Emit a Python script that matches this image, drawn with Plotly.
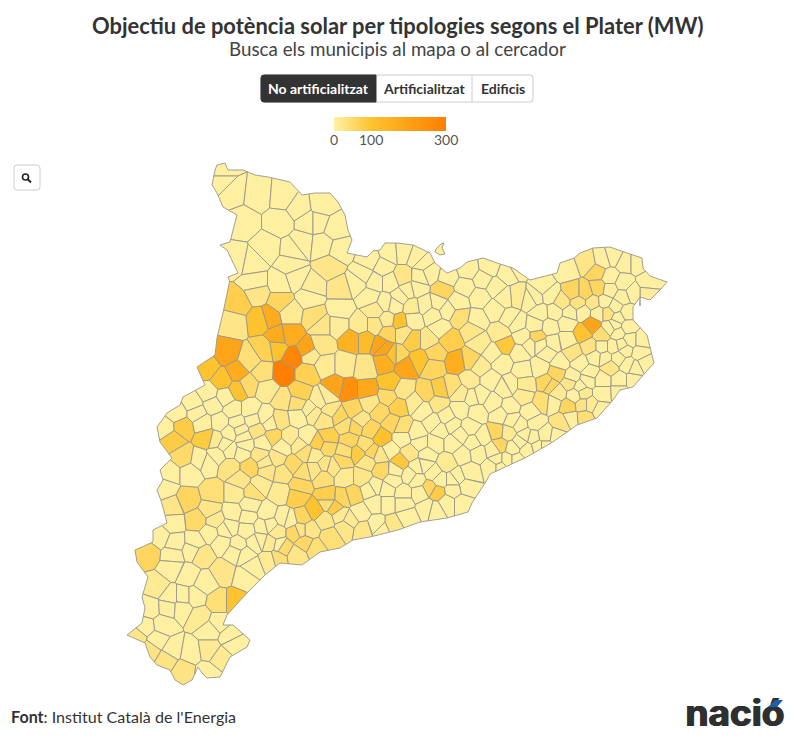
import plotly.graph_objects as go
from plotly.colors import sample_colorscale

# Municipal borders are NOT real: no boundary file is available offline, so cells are
# Voronoi regions around centres read off the picture, clipped to a traced outline.
# Centres and outline are in picture pixels; values (MW) are estimates from the colours.

title = "Objectiu de potència solar per tipologies segons el Plater (MW)"
subtitle = "Busca els municipis al mapa o al cercador"
tabs = ["No artificialitzat", "Artificialitzat", "Edificis"]
source_bold = "Font"
source_text = ": Institut Català de l'Energia"
legend_ticks = [0, 100, 300]
color_stops = [[0, "#fff1a6"], [1 / 3, "#fdc32e"], [1, "#ff7f00"]]

outline_x = [217, 225, 228, 243, 255, 268, 290, 302, 315, 330, 338, 345, 348, 352, 347, 367, 373, 380, 385, 397,
             413, 430, 435, 447, 460, 467, 483, 503, 513, 530, 557, 560, 573, 580, 593, 610, 627, 642, 643, 650,
             667, 662, 650, 640, 633, 633, 647, 650, 654, 645, 633, 620, 613, 597, 577, 553, 527, 490, 487, 472,
             468, 447, 420, 398, 370, 353, 340, 320, 302, 280, 267, 247, 227, 223, 233, 250, 247, 230, 220, 207,
             202, 198, 192, 183, 175, 170, 157, 150, 145, 127, 142, 145, 142, 148, 137, 135, 153, 153, 167, 162,
             157, 163, 160, 172, 160, 157, 167, 180, 183, 205, 197, 215, 217, 222, 230, 228, 238, 227, 220, 230,
             237, 223, 217, 212, 215]
outline_y = [165, 163, 170, 170, 175, 177, 182, 195, 193, 193, 202, 215, 230, 240, 253, 257, 251, 250, 243, 243,
             245, 253, 263, 273, 268, 262, 258, 265, 268, 280, 273, 263, 259, 253, 248, 247, 253, 258, 268, 276,
             282, 288, 300, 297, 307, 320, 335, 347, 363, 373, 387, 390, 400, 418, 425, 442, 457, 474, 480, 503,
             512, 518, 522, 530, 537, 540, 548, 552, 565, 563, 573, 593, 615, 625, 625, 640, 647, 657, 677, 678,
             673, 667, 680, 685, 680, 670, 665, 657, 643, 635, 623, 608, 597, 577, 562, 550, 542, 530, 523, 503,
             490, 480, 470, 458, 442, 427, 413, 405, 397, 385, 367, 355, 338, 317, 283, 277, 273, 250, 245, 242,
             215, 207, 193, 185, 170]

# Llívia, detached from the rest
llivia_x = [436, 441, 444, 442, 445, 440, 435]
llivia_y = [249, 244, 243, 248, 254, 255, 252]
llivia_mw = 5

# Pirineu occidental
pyr_x = [222, 222, 232, 258, 283, 322, 299, 308, 318, 335, 243, 280, 267, 293, 302, 322, 340, 237, 252, 290, 330,
         295, 340, 313, 280, 255, 257, 280, 238, 290, 315, 340, 270, 260, 310, 363, 370, 357, 370, 375, 233]
pyr_y = [170, 182, 192, 195, 197, 205, 208, 222, 222, 228, 222, 222, 248, 250, 243, 245, 250, 260, 263, 265, 267,
         278, 288, 287, 283, 283, 293, 302, 303, 313, 317, 310, 317, 320, 297, 275, 260, 283, 297, 282, 323]
pyr_mw = [5, 5, 5, 5, 5, 5, 5, 5, 5, 5, 5, 5, 5, 5, 5, 5, 5, 5, 5, 5, 25,
          5, 25, 10, 5, 5, 25, 60, 75, 15, 40, 5, 170, 100, 5, 5, 5, 5, 5, 5, 25]

# Centre nord
north_x = [390, 403, 417, 423, 383, 390, 403, 420, 430, 443, 448, 468, 490, 507, 517, 465, 483, 495, 517, 480, 400,
           417, 438, 458, 460, 385, 395, 412, 425, 495, 517, 387, 400, 413, 433, 447, 477, 388, 403, 413, 428, 450,
           472, 480, 500, 505, 523, 520, 493, 383, 397, 405, 420, 435, 457, 470, 480, 502, 523, 385, 433]
north_y = [253, 252, 257, 263, 267, 282, 277, 277, 273, 290, 277, 270, 267, 273, 267, 287, 280, 287, 297, 297, 297,
           288, 303, 302, 317, 303, 305, 307, 305, 310, 323, 320, 322, 320, 315, 310, 320, 333, 333, 340, 340, 340,
           330, 343, 333, 345, 337, 353, 353, 347, 355, 367, 360, 353, 362, 360, 367, 363, 370, 363, 367]
north_mw = [5, 5, 5, 5, 5, 5, 25, 5, 5, 60, 5, 5, 5, 5, 5, 5, 5, 5, 15, 5, 5,
            5, 5, 5, 40, 5, 5, 15, 5, 5, 5, 15, 100, 5, 5, 5, 5, 60, 25, 80, 25, 75,
            25, 15, 15, 90, 5, 5, 5, 190, 60, 190, 100, 60, 160, 60, 15, 5, 5, 160, 60]

# Girona
gir_x = [543, 567, 587, 597, 603, 613, 625, 637, 648, 647, 633, 623, 610, 573, 585, 598, 610, 622, 535, 550, 562,
         578, 593, 605, 615, 627, 540, 555, 570, 583, 598, 608, 618, 628, 592, 537, 550, 567, 567, 583, 602, 610,
         618, 630, 642, 553, 547, 573, 590, 602, 613, 625, 640, 540, 560, 580, 595, 610, 628, 645, 572, 557, 590,
         633, 620, 602, 547, 570, 580]
gir_y = [287, 270, 263, 272, 260, 257, 263, 263, 283, 293, 293, 283, 277, 292, 292, 288, 290, 297, 297, 295, 302,
         303, 303, 302, 307, 313, 313, 312, 313, 312, 313, 313, 318, 327, 325, 337, 327, 323, 340, 333, 335, 328,
         333, 340, 340, 343, 353, 353, 347, 347, 347, 350, 353, 367, 363, 363, 357, 367, 365, 363, 377, 373, 373,
         380, 380, 380, 383, 383, 387]
gir_mw = [5, 5, 25, 60, 5, 5, 5, 5, 5, 10, 5, 5, 5, 60, 60, 60, 5, 5, 5, 5, 25,
          30, 25, 5, 5, 5, 5, 5, 5, 5, 5, 30, 5, 5, 190, 60, 5, 5, 5, 100, 40, 5,
          5, 5, 5, 5, 5, 30, 30, 5, 5, 5, 5, 5, 5, 5, 5, 25, 5, 5, 5, 60, 5,
          5, 5, 5, 60, 25, 5]

# Maresme i Vallès
bcn_x = [550, 543, 558, 523, 505, 493, 510, 530, 553, 568, 583, 602, 583, 600, 585, 562, 535, 520, 497, 508, 520,
         533, 545, 557, 500, 513, 527, 538, 493, 497, 507, 517, 492, 500]
bcn_y = [385, 402, 393, 395, 388, 403, 407, 413, 403, 407, 393, 393, 405, 410, 417, 422, 423, 425, 432, 433, 442,
         437, 435, 437, 445, 448, 450, 447, 450, 460, 460, 460, 467, 467]
bcn_mw = [60, 40, 15, 15, 5, 5, 5, 5, 5, 60, 15, 5, 30, 5, 40, 30, 5, 5, 60, 15, 5,
          5, 5, 5, 60, 5, 5, 5, 5, 5, 5, 5, 5, 5]

# Segarra, Anoia, Penedès
mid_x = [348, 335, 367, 388, 390, 327, 325, 403, 415, 398, 380, 370, 353, 340, 427, 440, 453, 438, 423, 447, 460,
         473, 460, 477, 483, 392, 402, 370, 355, 382, 328, 350, 402, 417, 433, 452, 470, 327, 358, 372, 343, 390,
         400, 410, 420, 435, 453, 473, 332, 367, 382, 345, 323, 362, 417, 427, 447, 463, 478, 433, 457, 470]
mid_y = [390, 387, 390, 397, 383, 397, 420, 390, 403, 407, 412, 403, 410, 417, 393, 390, 387, 403, 410, 417, 393,
         397, 410, 413, 437, 423, 427, 430, 427, 438, 437, 440, 438, 433, 423, 425, 427, 447, 453, 452, 460, 450,
         462, 453, 443, 443, 443, 443, 467, 462, 470, 477, 477, 477, 467, 455, 463, 455, 453, 473, 477, 472]
mid_mw = [250, 190, 180, 50, 100, 10, 25, 25, 15, 75, 55, 25, 60, 60, 60, 80, 40, 25, 5, 5, 15,
          5, 5, 5, 5, 60, 40, 60, 60, 105, 75, 60, 5, 5, 5, 5, 5, 55, 80, 60, 55, 5,
          90, 25, 5, 5, 5, 5, 25, 25, 55, 15, 40, 25, 5, 5, 15, 5, 5, 5, 5, 5]

# Costa central
coast_x = [327, 343, 335, 353, 375, 393, 403, 417, 430, 437, 453, 467, 453, 447, 462, 427, 407, 393, 382, 420, 403,
           387, 375, 377, 363, 360, 345, 330, 327, 370, 387, 435]
coast_y = [497, 498, 508, 495, 487, 480, 493, 480, 488, 492, 480, 487, 490, 503, 503, 508, 517, 525, 530, 493, 503,
           503, 503, 525, 530, 513, 527, 537, 503, 490, 490, 510]
coast_mw = [75, 60, 80, 60, 5, 5, 5, 5, 60, 80, 5, 5, 5, 5, 5, 5, 5, 25, 5, 5, 5,
            5, 5, 5, 25, 5, 25, 40, 40, 5, 5, 5]

# Tarragona i Terres de l'Ebre
ebre_x = [165, 172, 188, 173, 213, 197, 235, 253, 280, 297, 315, 210, 233, 248, 267, 283, 302, 160, 175, 195, 210,
          230, 247, 262, 277, 295, 310, 222, 238, 255, 270, 283, 305, 315, 297, 148, 173, 192, 202, 223, 245, 252,
          235, 270, 277, 172, 188, 205, 157, 170, 183, 195, 218, 235, 150, 168, 182, 200, 218, 163, 145, 210, 230,
          137, 157, 150, 173, 190, 210, 233, 167, 183, 207, 220]
ebre_y = [488, 507, 500, 523, 493, 520, 493, 492, 493, 497, 510, 510, 513, 517, 513, 518, 517, 537, 543, 542, 533,
          527, 530, 527, 532, 532, 530, 543, 545, 542, 543, 547, 543, 548, 555, 553, 555, 550, 555, 572, 577, 567,
          552, 560, 558, 568, 575, 583, 587, 597, 597, 597, 602, 602, 608, 607, 608, 617, 623, 625, 627, 630, 637,
          637, 640, 650, 650, 653, 650, 643, 660, 670, 673, 657]
ebre_mw = [5, 25, 60, 5, 40, 50, 15, 40, 15, 75, 100, 25, 5, 5, 5, 5, 60, 5, 5, 5, 5,
           5, 5, 5, 15, 55, 25, 5, 5, 5, 15, 50, 55, 40, 25, 60, 5, 5, 25, 25, 5, 5,
           5, 15, 40, 5, 5, 5, 15, 5, 5, 5, 40, 100, 5, 5, 5, 15, 5, 5, 5, 5, 5,
           25, 5, 30, 5, 5, 15, 5, 30, 30, 5, 15]

# Ponent
pon_x = [227, 207, 237, 222, 238, 250, 263, 248, 283, 293, 307, 278, 265, 277, 290, 307, 300, 267, 283, 297, 193,
         208, 225, 233, 213, 177, 197, 250, 265, 165, 183, 203, 220, 237, 253, 280, 298, 313, 173, 207, 230, 243,
         257, 270, 273, 290, 307, 263, 183, 200, 217, 230, 242, 260, 277, 293, 305, 318, 170, 190, 208, 230, 250,
         267, 283, 303, 322, 338, 360, 375, 352, 365, 381, 395, 325, 345, 365, 322, 310, 240, 260, 300]
pon_y = [353, 368, 372, 380, 390, 360, 372, 385, 373, 357, 350, 337, 350, 348, 335, 373, 393, 390, 400, 403, 403,
         393, 397, 410, 405, 413, 413, 410, 417, 428, 427, 423, 422, 423, 420, 420, 417, 413, 440, 438, 433, 437,
         430, 423, 437, 437, 437, 443, 457, 460, 455, 450, 453, 455, 458, 465, 452, 443, 473, 473, 463, 467, 467,
         470, 473, 473, 325, 325, 325, 325, 340, 340, 345, 355, 365, 365, 368, 345, 355, 480, 485, 485]
pon_mw = [190, 100, 170, 100, 100, 40, 40, 50, 300, 280, 190, 170, 70, 100, 170, 70, 70, 15, 30, 40, 5,
          5, 5, 5, 5, 5, 5, 5, 5, 5, 80, 5, 5, 5, 5, 30, 5, 15, 80, 85, 5, 5,
          30, 5, 60, 15, 5, 5, 50, 5, 5, 5, 5, 25, 25, 55, 40, 75, 5, 5, 5, 30, 60,
          25, 30, 40, 25, 10, 15, 25, 150, 120, 190, 100, 15, 15, 25, 25, 20, 25, 15, 60]

# smaller municipalities that fill the gaps
small_x = [408, 375, 440, 505, 530, 535, 510, 470, 490, 510, 480, 500, 530, 540, 525, 615, 622, 605, 618, 635,
           588, 620, 512, 525, 545, 570, 575, 590, 440, 460, 425, 410, 440, 395, 380, 365, 345, 315, 250, 270,
           290, 260, 245, 225, 215, 280, 325, 340, 350, 300, 215, 225, 245, 265, 282, 300, 315, 325, 240, 320,
           310, 330, 345, 360]
small_y = [290, 310, 328, 298, 300, 325, 318, 380, 380, 385, 395, 415, 345, 345, 385, 325, 345, 358, 358, 368,
           380, 392, 420, 435, 447, 418, 395, 405, 430, 435, 465, 475, 480, 470, 455, 445, 452, 470, 505, 525,
           520, 540, 555, 530, 520, 545, 520, 515, 520, 530, 440, 445, 445, 463, 447, 445, 455, 465, 430, 400,
           410, 410, 425, 420]
small_mw = [5, 15, 5, 5, 5, 5, 5, 15, 5, 5, 5, 5, 5, 5, 15, 5, 5, 5, 5, 5,
            5, 5, 5, 5, 5, 5, 5, 15, 5, 5, 5, 5, 5, 5, 25, 40, 40, 25, 5, 5,
            5, 5, 5, 5, 15, 5, 25, 15, 15, 25, 15, 5, 5, 15, 5, 15, 15, 25, 5, 10,
            10, 25, 40, 25]

muni_x = pyr_x + north_x + gir_x + bcn_x + mid_x + coast_x + ebre_x + pon_x + small_x
muni_y = pyr_y + north_y + gir_y + bcn_y + mid_y + coast_y + ebre_y + pon_y + small_y
muni_mw = pyr_mw + north_mw + gir_mw + bcn_mw + mid_mw + coast_mw + ebre_mw + pon_mw + small_mw
assert len(muni_x) == len(muni_y) == len(muni_mw), (len(muni_x), len(muni_y), len(muni_mw))

# the page has an 8px body margin, so the figure is drawn smaller and the axes start at 8
W, H = 794, 743
OFF = 8
FONT = "Lato"
MAX_MW = 300
BORDER = dict(color="#97978a", width=0.9)


def clip_half(poly, px, py, qx, qy):
    # keep the part of poly nearer to p than to q
    mx, my = (px + qx) / 2, (py + qy) / 2
    nx, ny = qx - px, qy - py
    out = []
    for k in range(len(poly)):
        ax, ay = poly[k]
        bx, by = poly[(k + 1) % len(poly)]
        da = (ax - mx) * nx + (ay - my) * ny
        db = (bx - mx) * nx + (by - my) * ny
        if da <= 0:
            out.append((ax, ay))
        if da * db < 0:
            t = da / (da - db)
            out.append((ax + t * (bx - ax), ay + t * (by - ay)))
    return out


def cell_ring(i):
    poly = list(zip(outline_x, outline_y))
    for j in range(len(muni_x)):
        if j != i and (muni_x[j], muni_y[j]) != (muni_x[i], muni_y[i]):
            poly = clip_half(poly, muni_x[i], muni_y[i], muni_x[j], muni_y[j])
            if not poly:
                break
    return poly


def add_cell(fig, xs, ys, mw):
    fig.add_trace(go.Scatter(
        x=list(xs) + [xs[0]],
        y=list(ys) + [ys[0]],
        mode="lines",
        fill="toself",
        fillcolor=sample_colorscale(color_stops, mw / MAX_MW)[0],
        line=BORDER,
        text=f"{mw} MW",
        hoverinfo="text",
        hoveron="fills",
        showlegend=False,
    ))


fig = go.Figure()
for i in range(len(muni_x)):
    ring = cell_ring(i)
    if len(ring) >= 3:
        add_cell(fig, [p[0] for p in ring], [p[1] for p in ring], muni_mw[i])
add_cell(fig, llivia_x, llivia_y, llivia_mw)

# off-range point that only carries the colour bar
fig.add_trace(go.Scatter(
    x=[0], y=[0], mode="markers", showlegend=False, hoverinfo="skip",
    marker=dict(
        color=[0], cmin=0, cmax=MAX_MW, colorscale=color_stops, showscale=True,
        colorbar=dict(
            orientation="h", x=(334 - OFF) / (W - 2 * OFF), xanchor="left",
            y=1 - (117 - OFF) / (H - 2 * OFF), yanchor="top",
            len=112, lenmode="pixels", thickness=14, thicknessmode="pixels",
            showticklabels=False, ticks="", outlinewidth=0, xpad=0, ypad=0,
        ),
    ),
))

# logo as real text; the blue accent shape sits above it
fig.add_trace(go.Scatter(
    x=[735], y=[717], mode="text", text=["<b>nació</b>"], textposition="middle center",
    textfont=dict(family="Inter", size=37, color="#2f2f2f", weight=900,
                  shadow="0.8px 0 0 #2f2f2f, -0.8px 0 0 #2f2f2f"),
    hoverinfo="skip", showlegend=False,
))


def label(x, y, text, size, color, anchor="center"):
    return dict(x=x, y=y, xref="x", yref="y", text=text, showarrow=False, xanchor=anchor, yanchor="middle",
                font=dict(family=FONT, size=size, color=color))


def round_path(x0, y0, x1, y1, r, right=True):
    # rectangle with rounded corners on the left, and on the right unless told otherwise
    rr = r if right else 0
    return (f"M {x0 + r} {y0} L {x1 - rr} {y0} Q {x1} {y0} {x1} {y0 + rr} L {x1} {y1 - rr} "
            f"Q {x1} {y1} {x1 - rr} {y1} L {x0 + r} {y1} Q {x0} {y1} {x0} {y1 - r} "
            f"L {x0} {y0 + r} Q {x0} {y0} {x0 + r} {y0} Z")


def path_shape(path, fill, line):
    return dict(type="path", xref="x", yref="y", path=path, fillcolor=fill, line=dict(color=line, width=1))


shapes = [
    path_shape(round_path(261, 75, 533, 102, 3), "#ffffff", "#cccccc"),
    path_shape(round_path(261, 75, 376, 102, 3, right=False), "#333333", "#333333"),
    dict(type="line", xref="x", yref="y", x0=472, x1=472, y0=75, y1=102, line=dict(color="#cccccc", width=1)),
    path_shape(round_path(14, 165, 40, 190, 3), "#ffffff", "#cccccc"),
    dict(type="circle", xref="x", yref="y", x0=22.5, x1=28.5, y0=174, y1=180,
         line=dict(color="#222222", width=1.6)),
    dict(type="line", xref="x", yref="y", x0=27.5, x1=31, y0=179, y1=182.5,
         line=dict(color="#222222", width=2)),
    dict(type="path", xref="x", yref="y", layer="above", path="M 768 707 L 775 700 L 783 700 L 777 707 Z",
         fillcolor="#1f5fa8", line=dict(width=0)),
]

annotations = [
    label(397, 25, "<b>" + title + "</b>", 21.9, "#333333"),
    label(397, 48, subtitle, 18.8, "#444444"),
    label(318.5, 88, "<b>" + tabs[0] + "</b>", 14, "#ffffff"),
    label(424, 88, "<b>" + tabs[1] + "</b>", 14, "#333333"),
    label(502.5, 88, "<b>" + tabs[2] + "</b>", 14, "#333333"),
    label(9, 716, "<b>" + source_bold + "</b>" + source_text, 16.1, "#333333", anchor="left"),
]
for t in legend_ticks:
    annotations.append(label(334 + t / MAX_MW * 112, 139.5, str(t), 14, "#555555"))

fig.update_layout(
    width=W - 2 * OFF,
    height=H - 2 * OFF,
    margin=dict(l=0, r=0, t=0, b=0),
    paper_bgcolor="white",
    plot_bgcolor="white",
    shapes=shapes,
    annotations=annotations,
    xaxis=dict(range=[OFF, W - OFF], visible=False, fixedrange=True),
    yaxis=dict(range=[H - OFF, OFF], visible=False, fixedrange=True),
)

fig.write_html("out.html")
